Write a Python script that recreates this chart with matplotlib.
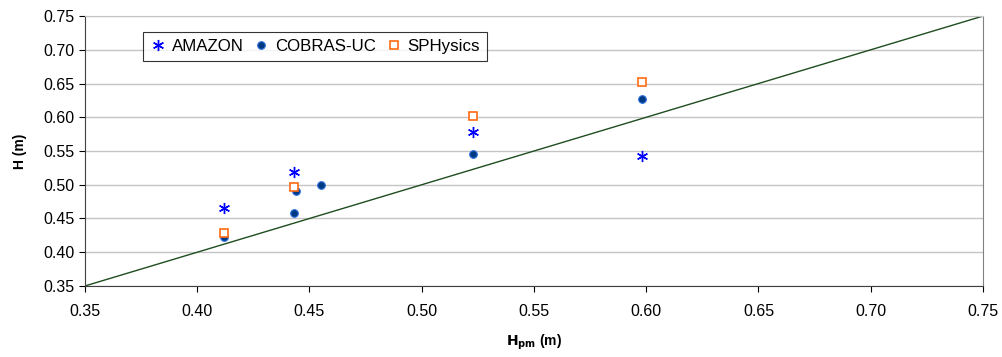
import numpy as np
import matplotlib.pyplot as plt

plt.rcParams['font.family'] = ['Liberation Sans', 'DejaVu Sans']

# measured vs computed wave heights
amazon_x = [0.412, 0.443, 0.523, 0.598]
amazon_y = [0.465, 0.519, 0.578, 0.542]

cobras_x = [0.412, 0.443, 0.444, 0.455, 0.523, 0.598]
cobras_y = [0.423, 0.458, 0.491, 0.499, 0.546, 0.627]

sph_x = [0.412, 0.443, 0.523, 0.598]
sph_y = [0.429, 0.497, 0.602, 0.653]

ticks = [0.35, 0.40, 0.45, 0.50, 0.55, 0.60, 0.65, 0.70, 0.75]

fig = plt.figure(figsize=(10.02, 3.57), dpi=100)
ax = fig.add_axes([0.0848, 0.199, 0.8962, 0.756])

# 1:1 line
ax.plot([0.35, 0.75], [0.35, 0.75], color='#1f4d1f', lw=1.0, zorder=2)

ax.plot(amazon_x, amazon_y, ls='none', marker=(6, 2, 0), ms=8, mew=1.0,
        color='#0000ff', label='AMAZON', zorder=3)
ax.plot(cobras_x, cobras_y, ls='none', marker='o', ms=5.5, mew=0.8,
        mfc='#003a80', mec='#2f6fe0', label='COBRAS-UC', zorder=3)
ax.plot(sph_x, sph_y, ls='none', marker='s', ms=5.5, mew=1.2,
        mfc='white', mec='#ff6a10', label='SPHysics', zorder=4)

ax.set_xlim(0.35, 0.75)
ax.set_ylim(0.35, 0.75)
ax.set_xticks(ticks)
ax.set_yticks(ticks)
ax.set_xticklabels([f'{t:.2f}' for t in ticks])
ax.set_yticklabels([f'{t:.2f}' for t in ticks])
ax.tick_params(direction='out', length=4, width=0.8, labelsize=11.5, colors='black')
ax.tick_params(axis='x', pad=9)
ax.yaxis.grid(True, color='#c4c4c4', lw=1.0)
ax.set_axisbelow(True)

for s in ['left', 'bottom']:
    ax.spines[s].set_color('#404040')
ax.spines['right'].set_color('#808080')
ax.spines['top'].set_color('#c4c4c4')

ax.set_ylabel('H (m)', fontsize=10, fontweight='bold', labelpad=12)
ax.set_xlabel(r'$\mathbf{H_{pm}}$ (m)', fontsize=10, fontweight='bold', labelpad=10)

leg = ax.legend(loc='upper left', bbox_to_anchor=(0.0646, 0.94), ncol=3,
                fontsize=12.2, frameon=True, fancybox=False, handletextpad=0.3,
                columnspacing=0.55, borderpad=0.4, handlelength=1.0,
                borderaxespad=0)
leg.get_frame().set_edgecolor('black')
leg.get_frame().set_linewidth(0.8)

fig.savefig('out.png', dpi=100)
